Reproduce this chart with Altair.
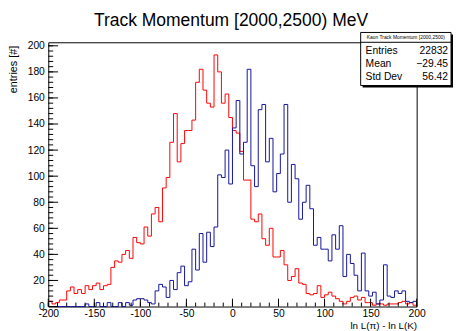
import altair as alt
import pandas as pd

# ---------------- data ----------------
title_text = "Track Momentum [2000,2500) MeV"
x_title = "ln L(\u03c0) - ln L(K)"
y_title = "entries [#]"

bin_low = -200
bin_width = 4

kaon_counts = [4, 2, 3, 5, 5, 12, 15, 10, 13, 10,
               16, 13, 16, 18, 13, 16, 17, 30, 35, 34,
               40, 43, 37, 53, 49, 48, 61, 54, 71, 76,
               65, 91, 99, 126, 148, 111, 125, 135, 135, 143,
               172, 182, 166, 156, 153, 193, 180, 156, 163, 145,
               135, 133, 119, 97, 97, 67, 65, 71, 52, 47,
               60, 38, 38, 43, 32, 20, 23, 29, 18, 17,
               10, 9, 10, 16, 7, 9, 11, 8, 6, 4,
               2, 4, 7, 8, 5, 7, 3, 3, 1, 2,
               2, 1, 2, 2, 2, 3, 4, 2, 3, 1]

pion_counts = [0, 0, 0, 0, 0, 0, 0, 0, 0, 0,
               2, 0, 0, 3, 0, 0, 3, 0, 0, 3,
               0, 3, 1, 5, 6, 6, 5, 3, 2, 12,
               17, 15, 7, 20, 13, 26, 31, 16, 19, 44,
               28, 56, 34, 57, 46, 61, 101, 99, 120, 94,
               137, 158, 117, 126, 182, 108, 92, 151, 155, 111,
               129, 88, 102, 117, 155, 80, 109, 98, 67, 80,
               93, 75, 47, 53, 44, 44, 35, 55, 44, 62,
               23, 40, 33, 24, 12, 41, 12, 8, 11, 2,
               5, 32, 8, 7, 12, 10, 12, 4, 3, 4]

x_labels = [-200, -150, -100, -50, 0, 50, 100, 150, 200]
y_labels = [0, 20, 40, 60, 80, 100, 120, 140, 160, 180, 200]
x_minor = list(range(-200, 201, 10))
y_minor = list(range(0, 201, 4))

stats_title = "Kaon Track Momentum [2000,2500)"
stats_names = ["Entries", "Mean", "Std Dev"]
stats_values = ["22832", "\u221229.45", "56.42"]

# ---------------- layout ----------------
W, H = 375, 269
FONT = "Liberation Sans"

edges = [bin_low + bin_width * i for i in range(len(kaon_counts) + 1)]
kaon_df = pd.DataFrame({"x": edges, "n": kaon_counts + [kaon_counts[-1]]})
pion_df = pd.DataFrame({"x": edges, "n": pion_counts + [pion_counts[-1]]})

x_scale = alt.Scale(domain=[-200, 200], nice=False, zero=False)
y_scale = alt.Scale(domain=[0, 202.7], nice=False)

x_axis = alt.Axis(values=x_labels, ticks=False, domain=False, grid=False,
                  labelPadding=2, labelFontSize=10.5, labelFlush=False,
                  labelOverlap=False,
                  labelExpr="replace(datum.label, '\u2212', '-')",
                  title=x_title, titleFontSize=10, titleFontWeight="normal",
                  titleX=W, titleY=22, titleAlign="right",
                  titleBaseline="alphabetic")
y_axis = alt.Axis(values=y_labels, ticks=False, domain=False, grid=False,
                  labelPadding=4, labelFontSize=10.5, labelFlush=False,
                  labelOverlap=False,
                  title=y_title, titleFontSize=11, titleFontWeight="normal",
                  titleAngle=270, titleX=-35, titleY=3, titleAlign="right",
                  titleBaseline="middle")


def X(field):
    return alt.X(field, type="quantitative", scale=x_scale, axis=x_axis)


def Y(field):
    return alt.Y(field, type="quantitative", scale=y_scale, axis=y_axis)


kaon = alt.Chart(kaon_df).mark_line(interpolate="step-after", color="#ff0000",
                                    strokeWidth=1).encode(x=X("x"), y=Y("n"))
pion = alt.Chart(pion_df).mark_line(interpolate="step-after", color="#12129f",
                                    strokeWidth=1).encode(x=X("x"), y=Y("n"))

xt_major = alt.Chart(pd.DataFrame({"v": x_labels})).mark_rule(
    color="black", strokeWidth=1).encode(x=X("v"), y=alt.value(H), y2=alt.value(H - 8))
xt_minor = alt.Chart(pd.DataFrame({"v": x_minor})).mark_rule(
    color="black", strokeWidth=1).encode(x=X("v"), y=alt.value(H), y2=alt.value(H - 4))
yt_major = alt.Chart(pd.DataFrame({"v": y_labels})).mark_rule(
    color="black", strokeWidth=1).encode(y=Y("v"), x=alt.value(0), x2=alt.value(10))
yt_minor = alt.Chart(pd.DataFrame({"v": y_minor})).mark_rule(
    color="black", strokeWidth=1).encode(y=Y("v"), x=alt.value(0), x2=alt.value(5))

# title
title = alt.Chart(pd.DataFrame({"t": [title_text]})).mark_text(
    font=FONT, fontSize=17.8, align="center", baseline="alphabetic", color="black").encode(
    text="t:N", x=alt.value(186), y=alt.value(-17))

# stats box
one = pd.DataFrame({"k": [0]})
BX0, BX1, BY0, BY1 = 318, 410, -10, 44
shadow = alt.Chart(one).mark_rect(color="black").encode(
    x=alt.value(BX0 + 2), x2=alt.value(BX1 + 2), y=alt.value(BY0 + 2), y2=alt.value(BY1 + 2))
box = alt.Chart(one).mark_rect(fill="white", stroke="black", strokeWidth=1).encode(
    x=alt.value(BX0), x2=alt.value(BX1), y=alt.value(BY0), y2=alt.value(BY1))
sep = alt.Chart(one).mark_rule(color="black", strokeWidth=1).encode(
    x=alt.value(BX0), x2=alt.value(BX1), y=alt.value(0))
head = alt.Chart(pd.DataFrame({"t": [stats_title]})).mark_text(
    font=FONT, fontSize=5, align="center", baseline="middle", color="black").encode(
    text="t:N", x=alt.value((BX0 + BX1) / 2), y=alt.value(-5))

rows = []
for i, (nm, vl) in enumerate(zip(stats_names, stats_values)):
    yy = 8.5 + 13.5 * i
    rows.append(alt.Chart(pd.DataFrame({"t": [nm]})).mark_text(
        font=FONT, fontSize=10.5, align="left", baseline="middle", color="black").encode(
        text="t:N", x=alt.value(BX0 + 5), y=alt.value(yy)))
    rows.append(alt.Chart(pd.DataFrame({"t": [vl]})).mark_text(
        font=FONT, fontSize=10.5, align="right", baseline="middle", color="black").encode(
        text="t:N", x=alt.value(BX1 - 3), y=alt.value(yy)))

chart = alt.layer(
    kaon, pion, xt_minor, xt_major, yt_minor, yt_major,
    shadow, box, sep, head, *rows, title
).properties(
    width=W, height=H,
    padding={"left": 41, "top": 32, "right": 37, "bottom": 22},
    autosize=alt.AutoSizeParams(type="none"),
).configure_view(
    stroke="black", strokeWidth=1
).configure_axis(
    labelFont=FONT, titleFont=FONT, labelColor="black", titleColor="black"
)

chart.save("out.html", embed_options={"renderer": "svg", "actions": False})
